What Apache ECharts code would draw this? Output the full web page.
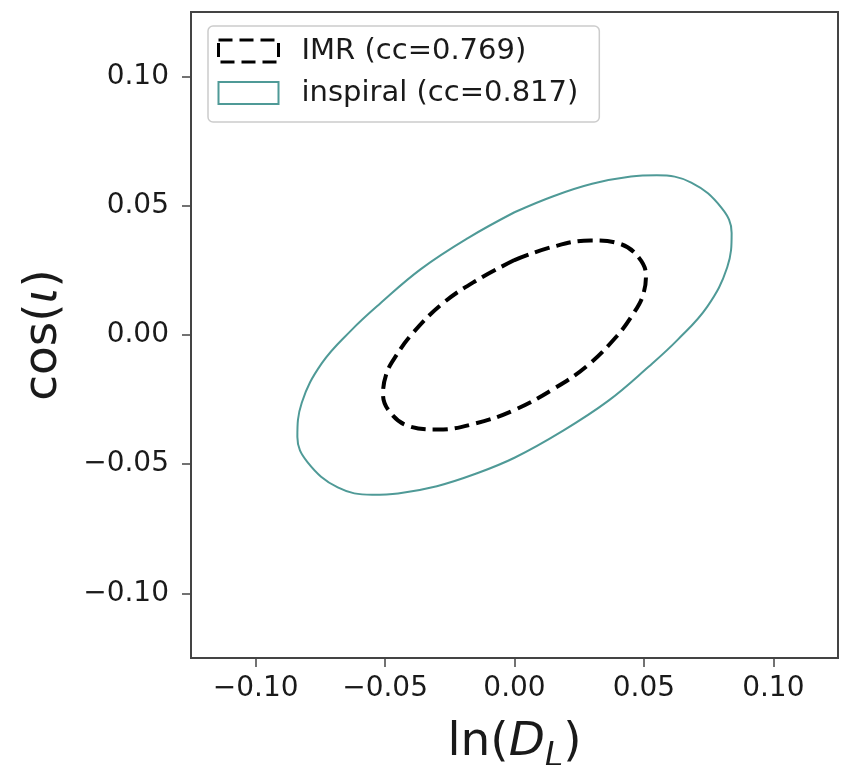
<!DOCTYPE html>
<html><head><meta charset="utf-8">
<script src="https://cdn.jsdelivr.net/npm/echarts@6/dist/echarts.min.js"></script>
<style>html,body{margin:0;padding:0;background:#fff}#c{width:842px;height:765px}</style>
</head><body><div id="c"></div>
<script>
// IMR contour (dashed)
const imrPoints = [
  [0.0000, 0.0290], [0.0150, 0.0342], [0.0294, 0.0366], [0.0410, 0.0352],
  [0.0480, 0.0300], [0.0508, 0.0230], [0.0495, 0.0150], [0.0460, 0.0084],
  [0.0395, -0.0005], [0.0280, -0.0120], [0.0152, -0.0208], [0.0000, -0.0290],
  [-0.0150, -0.0342], [-0.0294, -0.0366], [-0.0410, -0.0352], [-0.0480, -0.0300],
  [-0.0508, -0.0230], [-0.0495, -0.0150], [-0.0460, -0.0084], [-0.0395, 0.0005],
  [-0.0280, 0.0120], [-0.0152, 0.0208], [0.0000, 0.0290]
];
// inspiral contour (solid)
const inspiralPoints = [
  [0.0000, 0.0475], [0.0150, 0.0537], [0.0300, 0.0585], [0.0450, 0.0613],
  [0.0550, 0.0618], [0.0683, 0.0590], [0.0800, 0.0492], [0.0839, 0.0395],
  [0.0822, 0.0262], [0.0745, 0.0110], [0.0630, -0.0019], [0.0518, -0.0123],
  [0.0362, -0.0255], [0.0180, -0.0375], [0.0000, -0.0475], [-0.0150, -0.0537],
  [-0.0300, -0.0585], [-0.0450, -0.0613], [-0.0550, -0.0618], [-0.0683, -0.0590],
  [-0.0800, -0.0492], [-0.0839, -0.0395], [-0.0822, -0.0262], [-0.0745, -0.0110],
  [-0.0630, 0.0019], [-0.0518, 0.0123], [-0.0362, 0.0255], [-0.0180, 0.0375],
  [0.0000, 0.0475]
];
const tickValues = [-0.10, -0.05, 0.00, 0.05, 0.10];
const seriesNames = ['IMR (cc=0.769)', 'inspiral (cc=0.817)'];
const axisMin = -0.125, axisMax = 0.125;

const FONT = 'DejaVu Sans';
const TEAL = '#4f9a97';
const FRAME = '#444';
const TXT = '#1a1a1a';

function fmt(v) {
  const s = Math.abs(v).toFixed(2);
  return v < -1e-9 ? '\u2212' + s : s;
}

function axisCommon() {
  return {
    type: 'value', min: axisMin, max: axisMax,
    axisLine: { show: true, onZero: false, lineStyle: { color: FRAME, width: 2 } },
    splitLine: { show: false },
    axisTick: { show: true, inside: false, length: 9, customValues: tickValues,
      lineStyle: { color: FRAME, width: 1.5 } },
    axisLabel: { customValues: tickValues, formatter: fmt, fontFamily: FONT,
      fontSize: 28, color: TXT }
  };
}

const chart = echarts.init(document.getElementById('c'), null, { renderer: 'canvas' });
const xAxis = axisCommon();
xAxis.axisLabel.margin = 17;
xAxis.name = '{n|ln(}{i|D}{s|L}{n|)}';
xAxis.nameLocation = 'middle';
xAxis.nameGap = 54;
xAxis.nameTextStyle = {
  fontFamily: FONT, fontSize: 47, color: TXT,
  rich: {
    n: { fontFamily: FONT, fontSize: 47, color: TXT, lineHeight: 62, verticalAlign: 'middle' },
    i: { fontFamily: FONT, fontSize: 47, color: TXT, fontStyle: 'italic', lineHeight: 62, verticalAlign: 'middle' },
    s: { fontFamily: FONT, fontSize: 33, color: TXT, fontStyle: 'italic', lineHeight: 30, verticalAlign: 'bottom' }
  }
};
const yAxis = axisCommon();
yAxis.axisLabel.margin = 22;
yAxis.name = '{n|cos(}{i|\u03b9}{n|)}';
yAxis.nameLocation = 'middle';
yAxis.nameGap = 124;
yAxis.nameTextStyle = {
  fontFamily: FONT, fontSize: 47, color: TXT,
  rich: {
    n: { fontFamily: FONT, fontSize: 47, color: TXT },
    i: { fontFamily: FONT, fontSize: 47, color: TXT, fontStyle: 'italic' }
  }
};

chart.setOption({
  animation: false,
  backgroundColor: '#fff',
  grid: { left: 191, right: 4, top: 12, bottom: 107, show: true, containLabel: false,
    outerBoundsMode: 'none',
    borderColor: FRAME, borderWidth: 2, backgroundColor: '#fff' },
  xAxis: xAxis,
  yAxis: yAxis,
  legend: {
    orient: 'vertical', left: 208, top: 26,
    padding: [8, 21, 12, 9], itemGap: 8, itemWidth: 60, itemHeight: 22,
    backgroundColor: '#fff', borderColor: '#cccccc', borderWidth: 1.5, borderRadius: 5,
    selectedMode: false,
    textStyle: { fontFamily: FONT, fontSize: 29, color: TXT, lineHeight: 34, padding: [0, 0, 0, 18] },
    data: [
      { name: seriesNames[0], icon: 'rect',
        itemStyle: { color: 'rgba(0,0,0,0)', borderColor: '#000', borderWidth: 3, borderType: [14, 7] } },
      { name: seriesNames[1], icon: 'rect',
        itemStyle: { color: 'rgba(0,0,0,0)', borderColor: TEAL, borderWidth: 2 } }
    ]
  },
  series: [
    { type: 'line', name: seriesNames[0], data: imrPoints, smooth: 0.4, smoothConstraint: false,
      symbol: 'none', lineStyle: { color: '#000', width: 4, type: [15, 7] },
      itemStyle: { color: '#000' }, z: 3 },
    { type: 'line', name: seriesNames[1], data: inspiralPoints, smooth: 0.4, smoothConstraint: false,
      symbol: 'none', lineStyle: { color: TEAL, width: 2 }, itemStyle: { color: TEAL }, z: 2 }
  ]
});
</script></body></html>
